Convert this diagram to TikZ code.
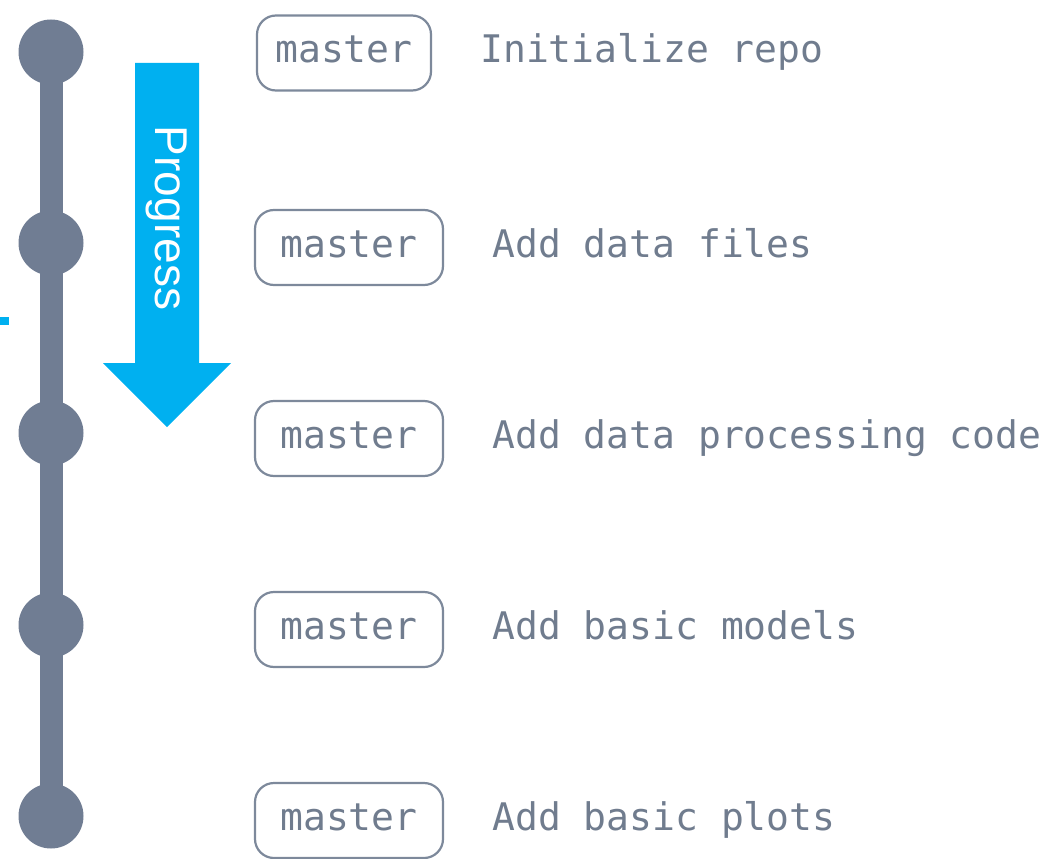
\documentclass[tikz,border=0pt]{standalone}
\usepackage{fontspec}
\setmonofont{DejaVu Sans Mono}
\newfontfamily\progressfont{Liberation Sans}
\usetikzlibrary{positioning,calc}
\definecolor{commitgray}{RGB}{112,125,147}
\definecolor{textgray}{RGB}{112,124,142}
\definecolor{boxgray}{RGB}{125,137,155}
\definecolor{progressblue}{RGB}{0,176,240}

\begin{document}
\begin{tikzpicture}[
	x=1pt, y=-1pt,
	commit/.style={circle, fill=commitgray, minimum size=65pt, inner sep=0pt},
	trunk/.style={line width=23pt, draw=commitgray},
	branch box/.style={draw=boxgray, line width=2.2pt, rounded corners=19pt, minimum width=188pt, minimum height=75pt, text=textgray, font=\ttfamily\fontsize{38}{46}\selectfont, text height=20pt, text depth=0pt},
	message/.style={text=textgray, font=\ttfamily\fontsize{38}{46}\selectfont, inner sep=0pt, anchor=base west}
	]
	\useasboundingbox (0,0) rectangle (1063,859);

	% commits on the trunk
	\node[commit] (c1) at (51,52) {};
	\node[commit] (c2) at (51,243) {};
	\node[commit] (c3) at (51,433) {};
	\node[commit] (c4) at (51,625) {};
	\node[commit] (c5) at (51,816) {};
	\draw[trunk] (c1.center) -- (c5.center);

	\fill[progressblue] (0,317) rectangle (9,325);

	% progress arrow
	\fill[progressblue] (135,63) -- (199,63) -- (199,363) -- (231,363) -- (167,427) -- (103,363) -- (135,363) -- cycle;
	\node[rotate=-90, text=white, font=\progressfont\fontsize{46}{55}\selectfont] (progress) at (167,218) {Progress};

	% branch labels
	\node[branch box, minimum width=174pt] (b1) at (344,53) {master};
	\node[branch box] (b2) at (349,247.5) {master};
	\node[branch box] (b3) at (349,438.5) {master};
	\node[branch box] (b4) at (349,629.5) {master};
	\node[branch box] (b5) at (349,820.5) {master};

	% commit messages
	\node[message] (m1) at ([xshift=48pt]b1.base east) {Initialize repo};
	\node[message] (m2) at ([xshift=48pt]b2.base east) {Add data files};
	\node[message] (m3) at ([xshift=48pt]b3.base east) {Add data processing code};
	\node[message] (m4) at ([xshift=48pt]b4.base east) {Add basic models};
	\node[message] (m5) at ([xshift=48pt]b5.base east) {Add basic plots};
\end{tikzpicture}
\end{document}
